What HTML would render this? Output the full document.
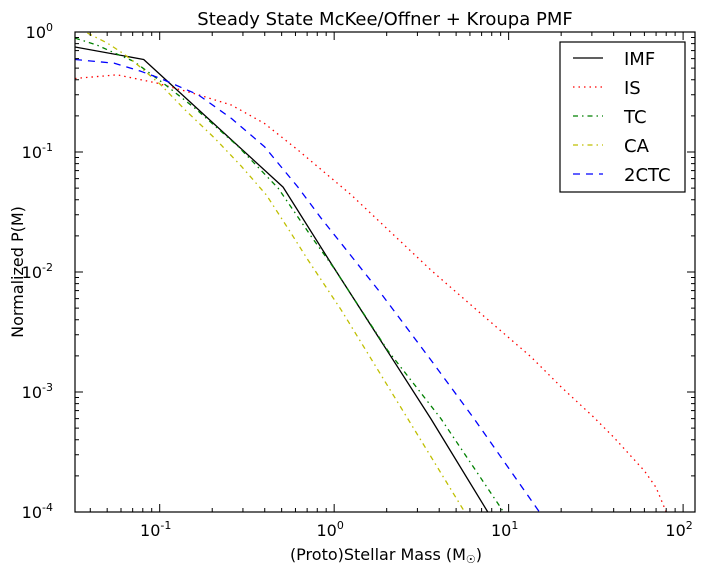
<!DOCTYPE html>
<html><head><meta charset="utf-8"><style>
body{margin:0;background:#fff;}
svg text{font-family:"DejaVu Sans","Liberation Sans",sans-serif;fill:#000;}
</style></head><body>
<svg id="chart" width="706" height="576" xmlns="http://www.w3.org/2000/svg">
<rect width="706" height="576" fill="#fff"/>
<text x="385" y="25" font-size="18" text-anchor="middle">Steady State McKee/Offner + Kroupa PMF</text>
<text x="386" y="560" font-size="16" text-anchor="middle">(Proto)Stellar Mass (M<tspan font-size="11" dy="3">☉</tspan><tspan dy="-3">)</tspan></text>
<text transform="translate(23,272) rotate(-90)" font-size="16" text-anchor="middle">Normalized P(M)</text>
<g id="series"></g>
<g id="axes"></g>
<g id="legend"></g>
</svg>
<script>
const imfM=[0.0327,0.081,0.51,0.96,3.58,7.6,10];
const imfP=[0.75,0.59,0.051,0.0118,0.0006,0.0001,0.000053];
const isM=[0.0327,0.057,0.096,0.166,0.258,0.398,0.62,1.25,1.86,3.58,6.9,13.4,20,30.6,40,60,70,80,90];
const isP=[0.41,0.44,0.376,0.3,0.246,0.173,0.104,0.044,0.0255,0.0104,0.00453,0.00197,0.0011,0.00062,0.00042,0.00022,0.00016,0.0001,0.00006];
const tcM=[0.0327,0.0435,0.055,0.071,0.106,0.159,0.282,0.477,0.74,1.0,2.02,4.09,9.36,11];
const tcP=[0.89,0.78,0.67,0.57,0.37,0.232,0.111,0.05,0.0197,0.0107,0.00224,0.0006,0.0001,0.00007];
const caM=[0.0385,0.05,0.062,0.075,0.1,0.14,0.207,0.294,0.409,0.544,0.708,1.1,2.64,5.6,7];
const caP=[0.98,0.81,0.66,0.53,0.37,0.224,0.13,0.076,0.0438,0.0231,0.0126,0.0048,0.0006,0.0001,0.00006];
const ctcM=[0.0327,0.055,0.078,0.101,0.166,0.258,0.398,0.62,0.843,1.86,3.58,6.33,15,18];
const ctcP=[0.59,0.55,0.47,0.41,0.3,0.19,0.111,0.051,0.028,0.0066,0.00185,0.0006,0.0001,0.00007];
const xTicks=[-1,0,1,2];
const yTicks=[0,-1,-2,-3,-4];
const legendNames=["IMF","IS","TC","CA","2CTC"];

const L=75,R=695,T=32,B=512;
const X0=Math.log10(0.0327),X1=Math.log10(117);
const sx=m=>L+(Math.log10(m)-X0)/(X1-X0)*(R-L);
const sy=p=>T+(0-Math.log10(p))/4*(B-T);
const NS="http://www.w3.org/2000/svg";
function mk(tag,attrs,parent){const e=document.createElementNS(NS,tag);for(const k in attrs)e.setAttribute(k,attrs[k]);parent.appendChild(e);return e;}

const ser=document.getElementById('series');
const clip=mk('clipPath',{id:'pc'},ser);mk('rect',{x:L,y:T,width:R-L,height:B-T},clip);
const styles=[
 {m:imfM,p:imfP,c:'#000',d:'',n:'imf-line'},
 {m:isM,p:isP,c:'#f00',d:'1.5 4',n:'is-line'},
 {m:tcM,p:tcP,c:'#008000',d:'5 4 1.5 4',n:'tc-line'},
 {m:caM,p:caP,c:'#bfbf00',d:'5 4 1.5 4',n:'ca-line'},
 {m:ctcM,p:ctcP,c:'#00f',d:'7 6',n:'2ctc-line'}];
styles.forEach(s=>{
 const pts=s.m.map((m,i)=>sx(m).toFixed(1)+','+sy(s.p[i]).toFixed(1)).join(' ');
 const el=mk('polyline',{points:pts,fill:'none',stroke:s.c,'stroke-width':1.3,'stroke-dasharray':s.d,'stroke-linejoin':'round','clip-path':'url(#pc)'},ser);
 
 
});

const ax=document.getElementById('axes');
const fr=mk('rect',{x:L,y:T,width:R-L,height:B-T,fill:'none',stroke:'#000','stroke-width':1.2},ax);


for(let d=-2;d<=2;d++){for(let k=1;k<10;k++){const m=k*Math.pow(10,d);const x=sx(m);if(x<L||x>R)continue;const len=k===1?8:4;
 mk('line',{x1:x,x2:x,y1:B,y2:B-len,stroke:'#000'},ax);mk('line',{x1:x,x2:x,y1:T,y2:T+len,stroke:'#000'},ax);}}
for(let d=-4;d<=0;d++){for(let k=1;k<10;k++){const p=k*Math.pow(10,d);if(p>1)continue;const y=sy(p);const len=k===1?8:4;
 mk('line',{x1:L,x2:L+len,y1:y,y2:y,stroke:'#000'},ax);mk('line',{x1:R,x2:R-len,y1:y,y2:y,stroke:'#000'},ax);}}
xTicks.forEach(e=>{const t=mk('text',{x:sx(Math.pow(10,e))-4,y:B+24,'font-size':16,'text-anchor':'middle'},ax);
 t.textContent='10';const s=mk('tspan',{dy:-7,'font-size':11},t);s.textContent=String(e);
 
 });
yTicks.forEach(e=>{const t=mk('text',{x:L-22,y:sy(Math.pow(10,e))+6,'font-size':16,'text-anchor':'end'},ax);
 t.textContent='10';const s=mk('tspan',{dy:-7,'font-size':11},t);s.textContent=String(e);
 
 });

const lg=document.getElementById('legend');
const box=mk('rect',{x:560,y:42,width:125,height:150,fill:'#fff',stroke:'#000','stroke-width':1.2},lg);


legendNames.forEach((n,i)=>{const y=58+i*29;const s=styles[i];
 const g=mk('g',{},lg);
 
 
 mk('line',{x1:573,x2:603,y1:y,y2:y,stroke:s.c,'stroke-width':1.3,'stroke-dasharray':s.d},g);
 const t=mk('text',{x:624,y:y+7,'font-size':18},g);t.textContent=n;});
</script>
</body></html>
